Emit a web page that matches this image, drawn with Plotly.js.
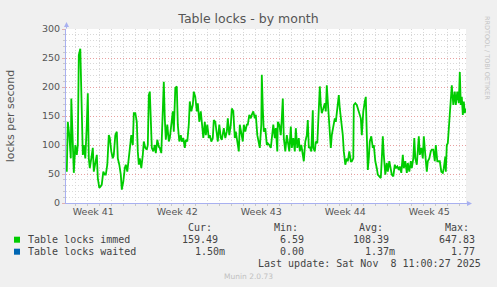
<!DOCTYPE html>
<html>
<head>
<meta charset="utf-8">
<script src="https://cdn.plot.ly/plotly-3.0.1.min.js"></script>
<style>
  html, body { margin: 0; padding: 0; background: #f0f0f0; }
  #chart { width: 497px; height: 287px; }
</style>
</head>
<body>
<div id="chart"></div>
<script>
// ---- data (hours since 2025-10-06 00:00 UTC, locks per second) ----
const hoursSinceStart = [
  7,9,12,15,16,19,21,24,27,29, 31,34,37,39,41,44,47,49,51,53,
  56,59,61,64,67,69,72,75,77,80, 83,85,88,91,93,96,99,101,104,107,
  109,112,115,117,120,123,125,128,131,133, 136,139,141,144,147,149,151,153,156,159,
  161,164,167,169,171,173,175,177,180,183, 185,188,191,193,196,199,201,203,205,208,
  211,213,216,219,221,224,227,229,232,235, 237,240,243,245,248,251,253,256,259,261,
  264,267,269,272,275,277,280,283,285,288, 291,293,296,299,301,304,307,309,312,315,
  317,320,
  321,324,327,329,332,335,337,340,343,345, 348,351,353,356,359,361,364,367,369,372,
  375,377,380,383,385,388,391,393,396,397, 399,401,404,407,409,412,415,417,420,423,
  425,428,429,432,435,437,439,441,444,447, 449,452,455,457,460,463,465,468,471,473,
  476,479,
  481,484,487,489,491,493,496,499,500,503, 505,508,511,513,515,517,520,523,525,527,
  529,532,535,537,540,543,545,548,551,553, 556,559,561,564,567,569,572,575,577,580,
  581,584,587,589,592,595,597,600,603,605, 607,609,611,613,616,619,621,624,627,629,
  632,635,637,639,
  641,644,647,649,652,655,657,660,663,665, 668,671,673,676,679,681,684,687,689,692,
  695,697,700,702,704,707,709,711,713,716, 719,721,724,727,729,732,735,737,740,743,
  745,748,751,753,756,759,761,764,765,767, 769,772,775,777,780,783,785,788,791,793,
  795,797,799,801,803,805
];
const tableLocksImmed = [
  54,140,117,77,180,106,52,100,83,100, 255,266,152,83,100,77,135,189,77,60,
  77,95,54,72,83,43,26,29,32,54, 49,49,66,117,112,89,77,83,117,123,
  77,66,49,23,37,60,66,54,77,83, 117,100,155,155,140,89,66,77,60,83,
  106,95,92,100,186,192,135,95,89,100, 86,109,97,95,86,158,209,146,109,135,
  106,112,140,158,123,198,201,135,106,117, 106,112,95,109,106,135,175,158,169,192,
  183,158,172,140,158,135,112,140,117,135, 112,117,106,112,143,140,112,106,135,112,
  109,129,
  129,112,123,146,117,135,163,158,112,123, 106,89,135,117,106,135,123,135,135,152,
  146,152,158,146,152,117,100,95,135,221, 163,123,129,100,103,100,95,117,135,112,
  129,89,140,135,117,146,180,112,89,117, 106,89,132,95,112,89,129,95,112,89,
  100,80,
  72,106,117,143,95,97,89,160,95,89, 106,103,158,201,169,155,163,172,158,203,
  175,129,95,117,135,146,140,163,186,163, 140,117,89,66,77,72,89,72,72,77,
  169,172,169,163,158,146,117,158,175,183, 117,57,77,106,115,95,100,72,60,49,
  46,43,77,115,
  83,49,69,54,72,60,49,46,66,60, 63,57,63,52,83,60,72,52,69,54,
  72,60,77,112,77,66,100,115,83,95, 77,115,83,54,72,77,89,92,92,72,
  100,72,72,72,54,52,60,80,54,100, 103,140,163,203,169,192,169,192,172,226,
  169,183,152,175,155,163
];

// week labels (tick text) and their positions in hours since start
const weekLabels = ['Week 41', 'Week 42', 'Week 43', 'Week 44', 'Week 45'];
const weekCentreHours = [60, 228, 396, 564, 732];
const weekStartHours = [144, 312, 480, 648];

// legend / summary table
const seriesNames = ['Table locks immed', 'Table locks waited'];
const seriesColors = ['#00cc00', '#0066b3'];
const statHeaders = ['Cur:', 'Min:', 'Avg:', 'Max:'];
const curValues = ['159.49', '1.50m'];
const minValues = ['6.59', '0.00'];
const avgValues = ['108.39', '1.37m'];
const maxValues = ['647.83', '1.77'];
const lastUpdate = 'Last update: Sat Nov\u00a0 8 11:00:27 2025';
const footer = 'Munin 2.0.73';
const sideText = 'RRDTOOL / TOBI OETIKER';

// ---- helpers ----
const T0 = Date.UTC(2025, 9, 6, 0, 0, 0);
const toTime = h => T0 + h * 3600e3;
const W = 497, H = 287, L = 66, R = 31, TOP = 29, B = 84;
const PW = W - L - R, PH = H - TOP - B;
const PX = x => (x - L) / PW;
const PY = y => (H - B - y) / PH;

const xRange = [toTime(5.4), toTime(805.4)];

const traces = [{
  type: 'scatter',
  mode: 'lines',
  x: hoursSinceStart.map(toTime),
  y: tableLocksImmed,
  line: { color: seriesColors[0], width: 1.8 },
  hoverinfo: 'skip',
  showlegend: false
}];

const mono = { family: 'DejaVu Sans Mono', size: 10, color: '#444' };
const ann = [];
// column headers
const headerRight = [213.5, 299.5, 384.5, 470.5];
statHeaders.forEach((t, i) => ann.push({
  text: t, xref: 'paper', yref: 'paper', x: PX(headerRight[i]), y: PY(227),
  xanchor: 'right', yanchor: 'middle', showarrow: false, font: mono
}));
const colRight = [226.5, 312.5, 397, 483];
const charW = 6.02;
const rowY = [239.7, 251.7];
const stats = [curValues, minValues, avgValues, maxValues];
seriesNames.forEach((name, r) => {
  ann.push({ text: name, xref: 'paper', yref: 'paper', x: PX(26), y: PY(rowY[r]),
    xanchor: 'left', yanchor: 'middle', showarrow: false, font: mono });
  stats.forEach((col, c) => {
    const v = col[r];
    const hasSuffix = /[a-zA-Z]$/.test(v);
    ann.push({ text: v, xref: 'paper', yref: 'paper',
      x: PX(colRight[c] - (hasSuffix ? 0 : charW)), y: PY(rowY[r]),
      xanchor: 'right', yanchor: 'middle', showarrow: false, font: mono });
  });
});
ann.push({ text: lastUpdate, xref: 'paper', yref: 'paper', x: PX(482.5), y: PY(263.5),
  xanchor: 'right', yanchor: 'middle', showarrow: false, font: mono });
ann.push({ text: footer, xref: 'paper', yref: 'paper', x: PX(248), y: PY(276),
  xanchor: 'center', yanchor: 'middle', showarrow: false,
  font: { family: 'DejaVu Sans', size: 7.5, color: '#c0c0c0' } });
ann.push({ text: sideText, xref: 'paper', yref: 'paper', x: PX(487), y: PY(58),
  xanchor: 'center', yanchor: 'middle', showarrow: false, textangle: 90,
  font: { family: 'DejaVu Sans', size: 6.5, color: '#c4c4c4' } });
// axis arrows
ann.push({ text: '', xref: 'paper', yref: 'paper', x: PX(66.5), y: PY(22), ax: 0, ay: 8,
  showarrow: true, arrowhead: 2, arrowsize: 1, arrowwidth: 1, arrowcolor: '#a8b0f0' });
ann.push({ text: '', xref: 'paper', yref: 'paper', x: PX(472), y: PY(203.5), ax: -8, ay: 0,
  showarrow: true, arrowhead: 2, arrowsize: 1, arrowwidth: 1, arrowcolor: '#a8b0f0' });

const shapes = seriesColors.map((c, r) => ({
  type: 'rect', xref: 'paper', yref: 'paper',
  x0: PX(14), x1: PX(20), y0: PY(rowY[r] - 3), y1: PY(rowY[r] + 3),
  fillcolor: c, line: { width: 0 }
}));

const minorGrid = '#d8d8d8';
const majorGrid = '#e8a0a0';
const gridDash = '1px,2px';

const layout = {
  width: W, height: H,
  margin: { l: L, r: R, t: TOP, b: B, pad: 0 },
  paper_bgcolor: '#f0f0f0',
  plot_bgcolor: '#ffffff',
  showlegend: false,
  title: { text: 'Table locks - by month', x: 0.5, xanchor: 'center', y: 1 - 19 / H, yanchor: 'middle',
    font: { family: 'DejaVu Sans', size: 12.5, color: '#555' } },
  xaxis: {
    type: 'date', range: xRange, fixedrange: true,
    tickmode: 'array', tickvals: weekCentreHours.map(toTime), ticktext: weekLabels,
    ticks: '', showgrid: false, zeroline: false,
    showline: true, linecolor: '#a8b0f0', linewidth: 1,
    tickfont: { family: 'DejaVu Sans', size: 9.5, color: '#555' },
    minor: { tick0: toTime(0), dtick: 86400000, showgrid: true, gridcolor: minorGrid,
      griddash: gridDash, gridwidth: 1, ticks: 'outside', ticklen: 2, tickcolor: '#c8c8c8' }
  },
  xaxis2: {
    type: 'date', range: xRange, overlaying: 'x', anchor: 'y', side: 'bottom', fixedrange: true,
    tickmode: 'array', tickvals: weekStartHours.map(toTime), ticktext: weekStartHours.map(() => ''),
    showticklabels: false, ticks: 'outside', ticklen: 2, tickcolor: '#e09090',
    showgrid: true, gridcolor: majorGrid, griddash: gridDash, gridwidth: 1, zeroline: false, showline: false
  },
  yaxis: {
    range: [0, 300], fixedrange: true,
    tickmode: 'linear', tick0: 0, dtick: 50,
    showgrid: true, gridcolor: majorGrid, griddash: gridDash, gridwidth: 1,
    ticks: 'outside', ticklen: 3, tickcolor: '#e0b0b0',
    zeroline: false, showline: true, linecolor: '#a8b0f0', linewidth: 1,
    tickfont: { family: 'DejaVu Sans', size: 9.5, color: '#555' },
    title: { text: 'locks per second', standoff: 25,
      font: { family: 'DejaVu Sans', size: 11, color: '#555' } },
    minor: { dtick: 10, showgrid: true, gridcolor: minorGrid, griddash: gridDash, gridwidth: 1,
      ticks: 'outside', ticklen: 2, tickcolor: '#c8c8c8' }
  },
  annotations: ann,
  shapes: shapes
};

Plotly.newPlot('chart', traces, layout, { staticPlot: true, displayModeBar: false });
</script>
</body>
</html>
